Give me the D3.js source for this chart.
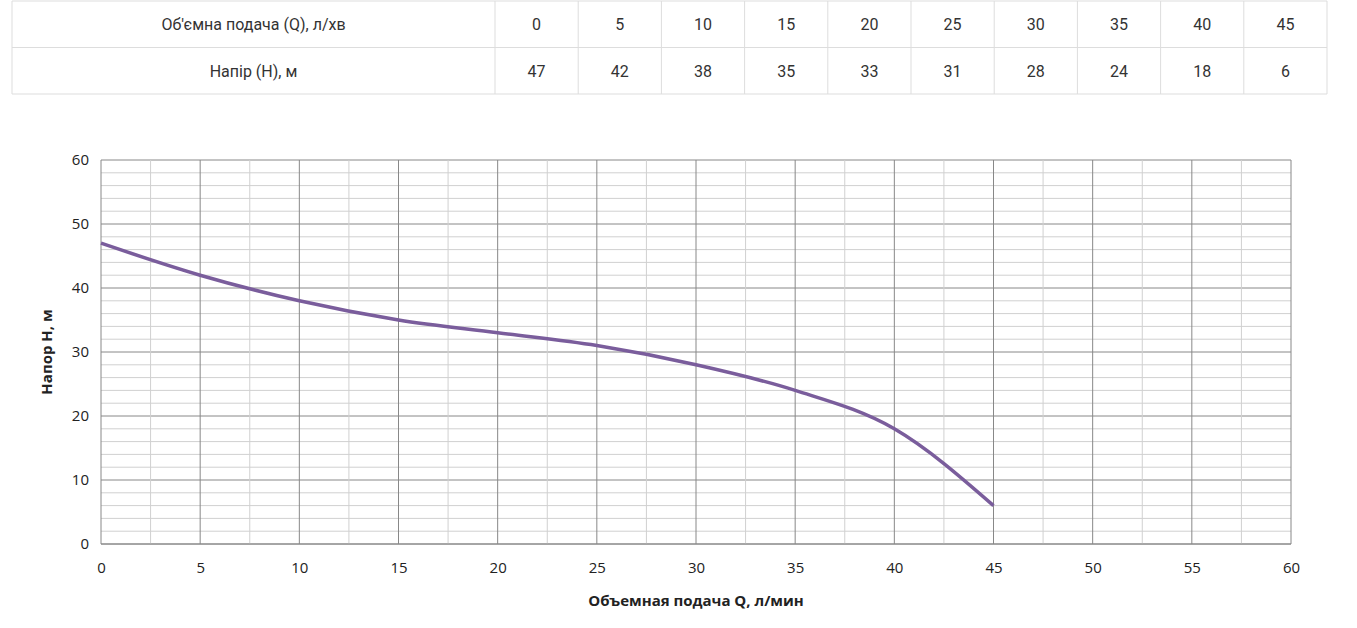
<!DOCTYPE html>
<html>
<head>
<meta charset="utf-8">
<script src="https://cdn.jsdelivr.net/npm/d3@7"></script>
<style>
body { margin: 0; background: #fff; }
</style>
</head>
<body>
<svg id="chart" width="1357" height="628"></svg>
<script>
var flow = [0, 5, 10, 15, 20, 25, 30, 35, 40, 45];
var head = [47, 42, 38, 35, 33, 31, 28, 24, 18, 6];
var rowLabels = ["Об'ємна подача (Q), л/хв", "Напір (H), м"];
var xTicks = [0, 5, 10, 15, 20, 25, 30, 35, 40, 45, 50, 55, 60];
var yTicks = [0, 10, 20, 30, 40, 50, 60];

var svg = d3.select("#chart");

// table
var tx0 = 12, tx1 = 495, tx2 = 1327, rowH = 46.5, ty0 = 1;
var colX = d3.scaleBand().domain(d3.range(flow.length)).range([tx1, tx2]);
var tbl = svg.append("g").attr("font-family", "Roboto, sans-serif").attr("font-size", 16).attr("fill", "#333");
[ty0, ty0 + rowH, ty0 + 2 * rowH].forEach(function (y) {
    tbl.append("line").attr("x1", tx0).attr("x2", tx2).attr("y1", y).attr("y2", y).attr("stroke", "#ddd");
});
[tx0, tx1].concat(d3.range(1, flow.length).map(function (i) { return colX(i); }), [tx2]).forEach(function (x) {
    tbl.append("line").attr("x1", x).attr("x2", x).attr("y1", ty0).attr("y2", ty0 + 2 * rowH).attr("stroke", "#ddd");
});
[flow, head].forEach(function (row, r) {
    var cy = ty0 + rowH * r + rowH / 2 + 6;
    tbl.append("text").attr("x", (tx0 + tx1) / 2).attr("y", cy).attr("text-anchor", "middle").text(rowLabels[r]);
    row.forEach(function (v, i) {
        tbl.append("text").attr("x", colX(i) + colX.bandwidth() / 2).attr("y", cy)
            .attr("text-anchor", "middle").text(v);
    });
});

// chart
var pLeft = 101, pRight = 1291, pTop = 160, pBottom = 544;
var x = d3.scaleLinear().domain([0, 60]).range([pLeft, pRight]);
var y = d3.scaleLinear().domain([0, 60]).range([pBottom, pTop]);
var g = svg.append("g");

d3.range(0, 60.1, 2).forEach(function (v) {
    g.append("line").attr("x1", pLeft).attr("x2", pRight).attr("y1", y(v)).attr("y2", y(v))
        .attr("stroke", v % 10 === 0 ? "#888" : "#d0d0d0").attr("stroke-width", 1);
});
d3.range(2.5, 60.1, 2.5).forEach(function (v) {
    g.append("line").attr("x1", x(v)).attr("x2", x(v)).attr("y1", pTop).attr("y2", pBottom)
        .attr("stroke", v % 5 === 0 ? "#888" : "#d0d0d0").attr("stroke-width", 1);
});
g.append("line").attr("x1", pLeft).attr("x2", pLeft).attr("y1", pTop).attr("y2", pBottom).attr("stroke", "#888");
g.append("line").attr("x1", pLeft).attr("x2", pRight).attr("y1", pBottom).attr("y2", pBottom).attr("stroke", "#888");

var xAxis = svg.append("g").attr("transform", "translate(0," + pBottom + ")")
    .call(d3.axisBottom(x).tickValues(xTicks).tickSize(0).tickPadding(18));
var yAxis = svg.append("g").attr("transform", "translate(" + pLeft + ",0)")
    .call(d3.axisLeft(y).tickValues(yTicks).tickSize(0).tickPadding(12));
[xAxis, yAxis].forEach(function (a) {
    a.select(".domain").remove();
    a.selectAll("text").attr("font-family", "'Open Sans', sans-serif").attr("font-size", 15).attr("fill", "#222");
});

svg.append("path")
    .datum(flow.map(function (q, i) { return [q, head[i]]; }))
    .attr("fill", "none").attr("stroke", "#7a5d9c").attr("stroke-width", 3.5)
    .attr("d", d3.line().x(function (d) { return x(d[0]); }).y(function (d) { return y(d[1]); })
        .curve(d3.curveMonotoneX));

svg.append("text").attr("x", (pLeft + pRight) / 2).attr("y", 606).attr("text-anchor", "middle")
    .attr("font-family", "'Open Sans', sans-serif").attr("font-weight", "bold").attr("font-size", 15)
    .attr("fill", "#222").text("Объемная подача Q, л/мин");
svg.append("text").attr("transform", "translate(52," + ((pTop + pBottom) / 2) + ") rotate(-90)")
    .attr("text-anchor", "middle")
    .attr("font-family", "'Open Sans', sans-serif").attr("font-weight", "bold").attr("font-size", 15)
    .attr("fill", "#222").text("Напор H, м");
</script>
</body>
</html>
